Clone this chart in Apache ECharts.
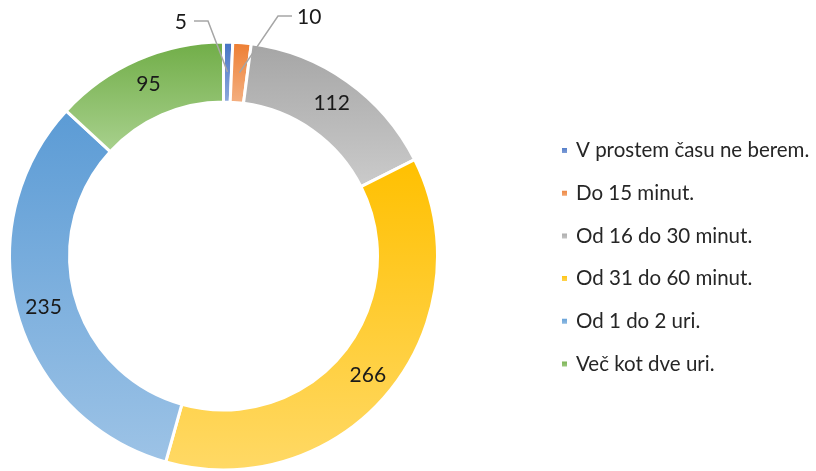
<!DOCTYPE html>
<html lang="sl">
<head>
<meta charset="UTF-8">
<title>Čas</title>
<script src="https://cdn.jsdelivr.net/npm/echarts@6/dist/echarts.min.js"></script>
<style>
  html, body { margin: 0; padding: 0; background: #fff; }
  #main { width: 816px; height: 471px; }
</style>
</head>
<body>
<div id="main"></div>
<script>
var categories = ['V prostem času ne berem.', 'Do 15 minut.', 'Od 16 do 30 minut.', 'Od 31 do 60 minut.', 'Od 1 do 2 uri.', 'Več kot dve uri.'];
var values = [5, 10, 112, 266, 235, 95];
// gradient top / bottom colour per slice
var topColors = ['#4472C4', '#ED7D31', '#A5A5A5', '#FFC000', '#5B9BD5', '#70AD47'];
var bottomColors = ['#8FAADC', '#F4B183', '#CBCBCB', '#FFD966', '#9DC3E6', '#A9D18E'];

var font = 'Lato, "Open Sans", sans-serif';
var cx = 223.5, cy = 256, r0 = 154, r1 = 214;

var chart = echarts.init(document.getElementById('main'));

var total = 0;
for (var k = 0; k < values.length; k++) total += values[k];

var data = [];
for (var i = 0; i < values.length; i++) {
  var item = {
    name: categories[i],
    value: values[i],
    itemStyle: {
      color: new echarts.graphic.LinearGradient(0, 0, 0, 1, [
        { offset: 0, color: topColors[i] },
        { offset: 1, color: bottomColors[i] }
      ])
    }
  };
  if (values[i] < 20) item.label = { position: 'outside' };
  data.push(item);
}

// anchor of a callout leader line: middle of the slice, in the ring
function anchor(idx) {
  var before = 0;
  for (var j = 0; j < idx; j++) before += values[j];
  var a = (before + values[idx] / 2) / total * 2 * Math.PI;
  var r = (r0 + r1) / 2;
  return [cx + r * Math.sin(a), cy - r * Math.cos(a)];
}
var lineStyle = { stroke: '#A6A6A6', lineWidth: 1.5, fill: null };

chart.setOption({
  animation: false,
  legend: {
    orient: 'vertical',
    left: 555,
    top: 135,
    itemWidth: 7,
    itemHeight: 7,
    itemGap: 21.7,
    icon: 'rect',
    textStyle: { fontFamily: font, fontSize: 20.5, color: '#262626', lineHeight: 20, padding: [0, 0, 0, 3] },
    data: categories
  },
  graphic: [
    { type: 'polyline', z: 10, shape: { points: [anchor(0), [208, 21], [194, 21]] }, style: lineStyle },
    { type: 'polyline', z: 10, shape: { points: [anchor(1), [278, 16], [292, 16]] }, style: lineStyle }
  ],
  series: [{
    type: 'pie',
    center: [cx, cy],
    radius: [r0, r1],
    startAngle: 90,
    clockwise: true,
    avoidLabelOverlap: false,
    itemStyle: { borderColor: '#fff', borderWidth: 3 },
    label: {
      show: true,
      position: 'inside',
      formatter: '{c}',
      fontFamily: font,
      fontSize: 21,
      color: '#1a1a1a'
    },
    labelLine: { show: false },
    labelLayout: function (p) {
      if (p.dataIndex === 0) return { x: 187, y: 22, align: 'right', verticalAlign: 'middle' };
      if (p.dataIndex === 1) return { x: 297, y: 17, align: 'left', verticalAlign: 'middle' };
      return {};
    },
    emphasis: { disabled: true },
    data: data
  }]
});
</script>
</body>
</html>
